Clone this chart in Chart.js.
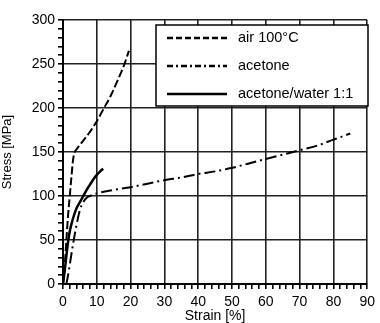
<!DOCTYPE html>
<html>
<head>
<meta charset="utf-8">
<script src="https://cdn.jsdelivr.net/npm/chart.js@4"></script>
<style>
  html, body { margin: 0; padding: 0; background: #fff; }
  #wrap { width: 380px; height: 323px; }
</style>
</head>
<body>
<div id="wrap"><canvas id="chart" width="380" height="323"></canvas></div>
<script>
// Series (strain in %, stress in MPa)
const seriesNames = ['air 100°C', 'acetone', 'acetone/water 1:1'];

const airStrain = [0, 0.5, 1, 1.5, 2, 2.5, 3, 3.5, 4, 6, 8, 10, 12, 14, 16, 18, 19.5];
const airStress = [0, 20, 50, 78, 100, 122, 142, 150, 153, 163, 173, 185, 199, 213, 230, 248, 265];

const acetoneStrain = [1, 1.5, 2, 3, 4, 5, 6, 7, 8, 10, 15, 20, 25, 30, 35, 40, 45, 50, 55, 60, 65, 70, 75, 80, 85];
const acetoneStress = [0, 10, 22, 46, 67, 84, 93, 98, 100, 103, 107, 110, 114, 118, 121, 125, 128, 132, 137, 142, 147, 152, 157, 164, 171];

const waterStrain = [0, 0.5, 1, 1.5, 2, 2.5, 3, 4, 5, 6, 7, 8, 9, 10, 11, 11.9];
const waterStress = [0, 15, 32, 48, 60, 68, 75, 86, 93, 100, 107, 113, 119, 124, 128, 131];

// Axis ticks
const xMajor = 10, xMinor = 2, xMax = 90;
const yMajor = 50, yMinor = 10, yMax = 300;

// dash patterns: in the plot, and in the legend samples
const plotDash = [[8, 3], [11, 4, 2, 4], []];
const legendDash = [[6, 3], [6, 3, 2, 3], []];

function toPoints(xs, ys) {
    return xs.map((x, i) => ({ x: x, y: ys[i] }));
}

// Legend box drawn inside the plot, top right
const boxLegend = {
    id: 'boxLegend',
    afterDraw(chart) {
        const ctx = chart.ctx;
        const left = 156, top = 25, w = 212, h = 81;
        ctx.save();
        ctx.fillStyle = '#fff';
        ctx.fillRect(left, top, w, h);
        ctx.strokeStyle = '#000';
        ctx.lineWidth = 1.5;
        ctx.strokeRect(left, top, w, h);
        const rows = [38, 66, 94];
        chart.data.datasets.forEach((ds, i) => {
            ctx.beginPath();
            ctx.setLineDash(legendDash[i]);
            ctx.lineWidth = 2.5;
            ctx.moveTo(167, rows[i]);
            ctx.lineTo(227, rows[i]);
            ctx.stroke();
            ctx.setLineDash([]);
            ctx.fillStyle = '#000';
            ctx.font = '14.5px "Liberation Sans", Arial, sans-serif';
            ctx.textBaseline = 'middle';
            ctx.fillText(ds.label, 238, rows[i]);
        });
        ctx.restore();
    }
};

const tickFont = { family: '"Liberation Sans", Arial, sans-serif', size: 14 };

new Chart(document.getElementById('chart'), {
    type: 'scatter',
    data: {
        datasets: [
            { label: seriesNames[0], data: toPoints(airStrain, airStress) },
            { label: seriesNames[1], data: toPoints(acetoneStrain, acetoneStress) },
            { label: seriesNames[2], data: toPoints(waterStrain, waterStress) }
        ].map((ds, i) => Object.assign(ds, {
            showLine: true,
            borderColor: '#000',
            backgroundColor: '#000',
            borderWidth: i === 2 ? 2.5 : 2,
            borderDash: plotDash[i],
            pointRadius: 0,
            cubicInterpolationMode: 'monotone'
        }))
    },
    options: {
        responsive: false,
        animation: false,
        layout: { padding: { top: 20, right: 8, left: 0, bottom: 0 } },
        plugins: {
            legend: { display: false },
            tooltip: { enabled: false }
        },
        scales: {
            x: {
                type: 'linear',
                min: 0,
                max: xMax,
                afterFit(scale) { scale.height = 39; },
                border: { display: true, color: '#000', width: 2 },
                grid: {
                    color: c => (c.tick && c.tick.value % xMajor === 0) ? '#222' : 'rgba(0,0,0,0)',
                    lineWidth: 1.6,
                    tickColor: '#000',
                    tickLength: 5
                },
                ticks: {
                    stepSize: xMinor,
                    maxTicksLimit: 100,
                    autoSkip: false,
                    maxRotation: 0,
                    padding: 5,
                    color: '#000',
                    font: tickFont,
                    callback: v => v % xMajor === 0 ? v : ''
                },
                title: {
                    display: true,
                    text: 'Strain [%]',
                    color: '#000',
                    font: { family: '"Liberation Sans", Arial, sans-serif', size: 14, lineHeight: 1 },
                    padding: { top: 0, bottom: 0 }
                }
            },
            y: {
                min: 0,
                max: yMax,
                afterFit(scale) { scale.width = 63; },
                border: { display: true, color: '#000', width: 2 },
                grid: {
                    color: c => (c.tick && c.tick.value % yMajor === 0) ? '#222' : 'rgba(0,0,0,0)',
                    lineWidth: 1.6,
                    tickColor: '#000',
                    tickLength: 5
                },
                ticks: {
                    stepSize: yMinor,
                    maxTicksLimit: 100,
                    autoSkip: false,
                    padding: 3,
                    color: '#000',
                    font: tickFont,
                    callback: v => v % yMajor === 0 ? v : ''
                },
                title: {
                    display: true,
                    text: 'Stress [MPa]',
                    color: '#000',
                    font: { family: '"Liberation Sans", Arial, sans-serif', size: 13 },
                    padding: { top: 0, bottom: 0 }
                }
            }
        }
    },
    plugins: [boxLegend]
});
</script>
</body>
</html>
